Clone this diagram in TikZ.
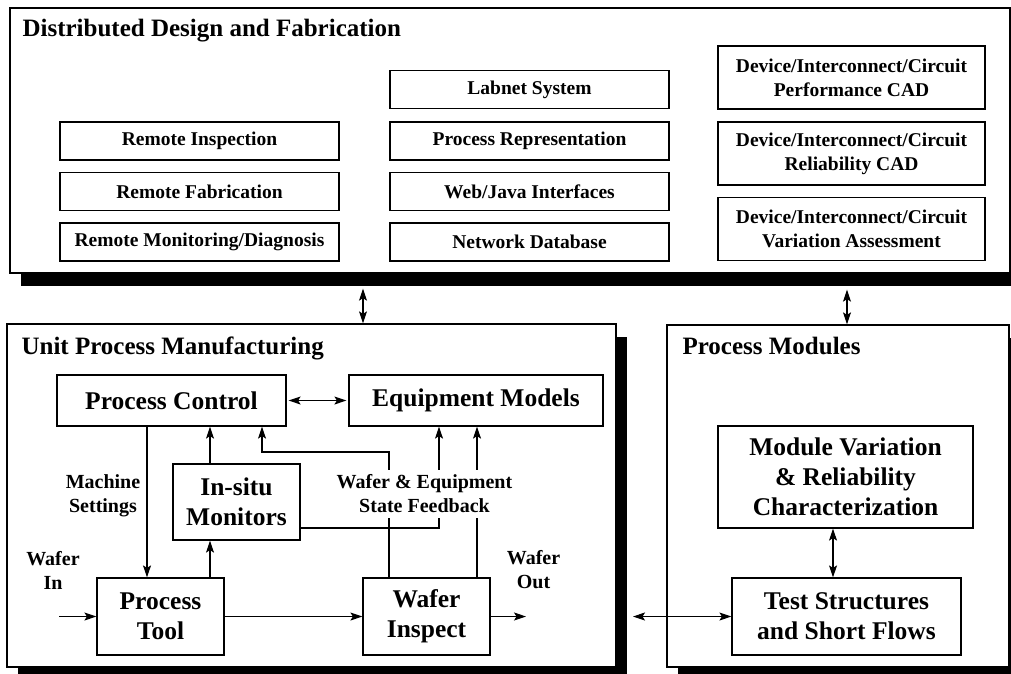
\documentclass[tikz,border=0pt]{standalone}
\usepackage{fontspec}
\setmainfont{Liberation Serif}
\usetikzlibrary{arrows.meta,shadows}

\tikzset{
  panel/.style={draw, line width=1.3pt, fill=white, inner sep=0pt,
    drop shadow={shadow xshift=11pt, shadow yshift=-13pt, fill=black, opacity=1}},
  title/.style={inner sep=0pt, font=\bfseries\fontsize{25}{30}\selectfont},
  smallbox/.style={draw, line width=1.2pt, fill=white, inner sep=0pt, align=center,
    minimum width=279pt, minimum height=38pt, font=\bfseries\fontsize{19.5}{24}\selectfont},
  bigbox/.style={draw, line width=1.2pt, fill=white, inner sep=0pt, align=center,
    font=\bfseries\fontsize{25.5}{30}\selectfont},
  note/.style={inner sep=1pt, align=center, font=\bfseries\fontsize{20}{24}\selectfont}
}

\begin{document}
\begin{tikzpicture}[x=1pt, y=-1pt, >={Stealth[length=12pt, width=8pt, inset=2.5pt]}, line width=1.1pt]
  \path[use as bounding box, fill=white] (0,0) rectangle (1011,673);

  \node[panel, minimum width=1000pt, minimum height=265pt] (ddf) at (510,140.5) {};
  \node[panel, minimum width=609pt, minimum height=343pt] (upm) at (311.5,495.5) {};
  \node[panel, minimum width=342pt, minimum height=342pt] (pm) at (838,496) {};
  \node[title, anchor=base west] (ddft) at (22,36.5) {Distributed Design and Fabrication};
  \node[title, anchor=base west] (upmt) at (21,354) {Unit Process Manufacturing};
  \node[title, anchor=base west] (pmt) at (682,354) {Process Modules};

  \begin{scope}[every node/.style={smallbox}]
    \node (insp) at (199.5,141) {Remote Inspection};
    \node (fab) at (199.5,191.5) {Remote Fabrication};
    \node (diag) at (199.5,242) {Remote Monitoring/Diagnosis};
    \node (labnet) at (529.5,89.5) {Labnet System};
    \node (rep) at (529.5,141) {Process Representation};
    \node (web) at (529.5,191.5) {Web/Java Interfaces};
    \node (db) at (529.5,242) {Network Database};
  \end{scope}
  \begin{scope}[every node/.style={smallbox, minimum width=267pt, minimum height=63pt}]
    \node (perf) at (851.5,77.5) {Device/Interconnect/Circuit\\Performance CAD};
    \node (rel) at (851.5,153.5) {Device/Interconnect/Circuit\\Reliability CAD};
    \node (var) at (851.5,229) {Device/Interconnect/Circuit\\Variation Assessment};
  \end{scope}

  \begin{scope}[every node/.style={bigbox}]
    \node[minimum width=229pt, minimum height=51pt] (ctrl) at (171.5,400.5) {Process Control};
    \node[minimum width=254pt, minimum height=51pt] (models) at (476,400.5) {Equipment Models};
    \node[minimum width=127pt, minimum height=76pt] (insitu) at (236.5,502) {In-situ\\Monitors};
    \node[minimum width=127pt, minimum height=77pt] (tool) at (160.5,616.5) {Process\\Tool};
    \node[minimum width=127pt, minimum height=77pt] (inspect) at (426.5,616.5) {Wafer\\Inspect};
    \node[minimum width=255pt, minimum height=102pt] (modvar) at (845.5,477) {Module Variation\\\& Reliability\\Characterization};
    \node[minimum width=229pt, minimum height=77pt] (test) at (846.5,616.5) {Test Structures\\and Short Flows};
  \end{scope}

  \node[note] (settings) at (103,496) {Machine\\Settings};
  \node[note] (waferin) at (53,570) {Wafer\\In};
  \node[note] (waferout) at (533.5,570) {Wafer\\Out};

  \coordinate (linkA) at (363,0);
  \coordinate (linkB) at (847,0);
  \coordinate (ms) at (147,0);
  \coordinate (mon) at (210,0);
  \coordinate (fb1) at (389,452);
  \coordinate (fb2) at (262,452);
  \coordinate (fb3) at (439,528);
  \coordinate (wem) at (477,0);
  \coordinate (mt) at (833,0);
  \coordinate (win) at (59,616.5);
  \coordinate (wout) at (526,616.5);
  \coordinate (lnk) at (633,616.5);

  \draw[<->, shorten <=15pt] (ddf.south -| linkA) -- (upm.north -| linkA);
  \draw[<->, shorten <=16pt] (ddf.south -| linkB) -- (pm.north -| linkB);
  \draw (ctrl) edge [<->, shorten <=2pt, shorten >=2pt] (models);
  \draw[->] (ctrl.south -| ms) -- (tool.north -| ms);
  \draw[->] (tool.north -| mon) -- (insitu.south -| mon);
  \draw[->] (insitu.north -| mon) -- (ctrl.south -| mon);
  \draw[->] (inspect.north -| fb1) -- (fb1) -- (fb2) -- (ctrl.south -| fb2);
  \draw[->] (inspect.north -| wem) -- (models.south -| wem);
  \draw[->] (insitu.east |- fb3) -- (fb3) -- (models.south -| fb3);
  \draw (win) edge [->] (tool.west);
  \draw (tool) edge [->] (inspect);
  \draw (inspect) edge [->] (wout);
  \draw (lnk) edge [<->] (test.west);
  \draw[<->] (modvar.south -| mt) -- (test.north -| mt);

  \node[note, fill=white, inner xsep=2pt, inner ysep=5pt] (fbnote) at (424.5,494) {Wafer \& Equipment\\State Feedback};
\end{tikzpicture}
\end{document}
